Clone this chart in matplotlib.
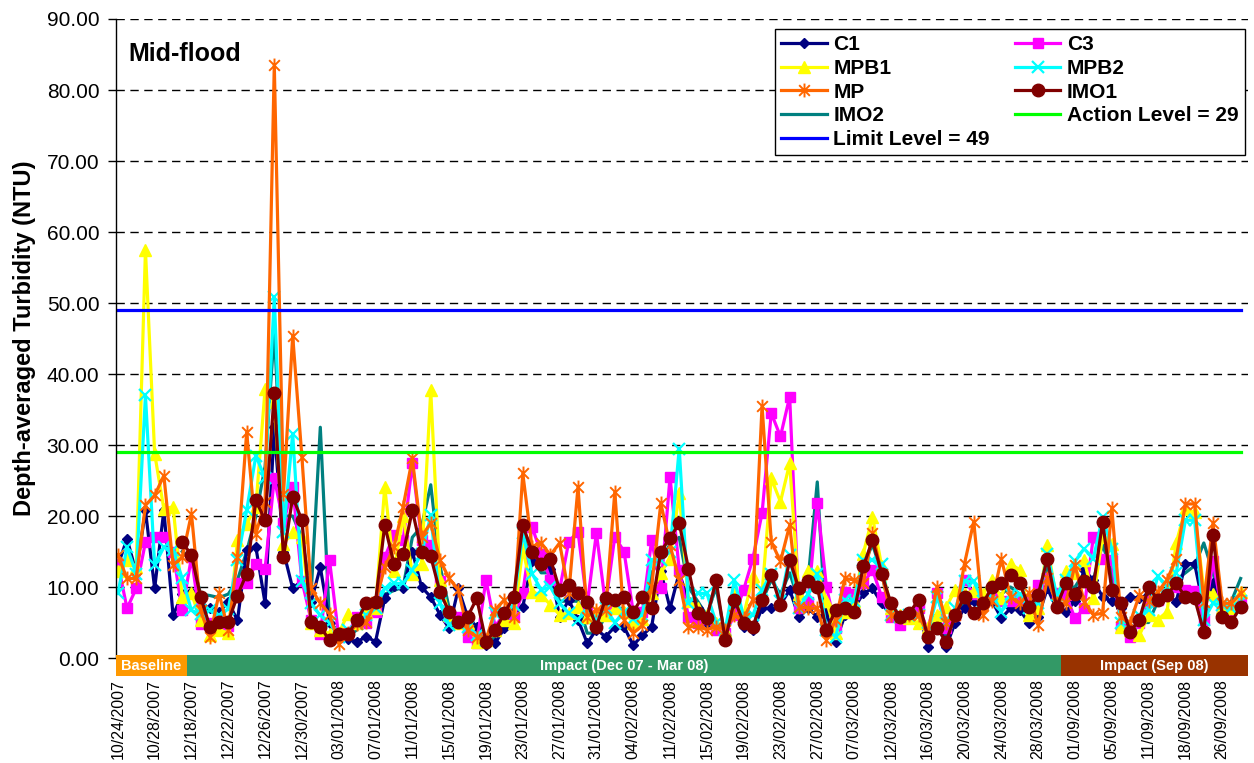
import numpy as np
import matplotlib
matplotlib.use("Agg")
import matplotlib.pyplot as plt
from matplotlib.path import Path
from matplotlib.patches import Rectangle

plt.rcParams['font.family'] = ['Liberation Sans', 'DejaVu Sans']

nan = np.nan

c1 = [13.0, 16.8, 12.0, 20.8, 9.8, 20.8, 6.0, 9.0, 9.3, 7.5,
      7.0, 6.5, 7.9, 5.3, 15.2, 15.6, 7.7, 32.5, 15.0, 9.8,
      10.9, 7.9, 12.8, 5.0, 3.7, 2.7, 2.3, 3.0, 2.3, 8.4,
      10.2, 9.8, 15.0, 10.0, 8.6, 6.1, 4.2, 9.8, 5.8, 4.4,
      1.8, 2.1, 4.2, 6.3, 7.2, 13.6, 13.3, 12.6, 5.8, 8.2,
      5.4, 2.1, 4.0, 3.0, 4.4, 4.4, 1.8, 3.2, 4.4, 12.2,
      7.0, 12.0, 8.0, 7.0, 5.0, 4.0, 4.0, 7.0, 4.4, 3.9,
      7.0, 7.0, 7.5, 9.6, 5.8, 7.0, 5.8, 6.3, 2.3, 6.0,
      7.0, 9.1, 9.8, 7.7, 6.0, 5.0, 6.0, 7.0, 1.6, 5.8,
      1.6, 5.0, 7.0, 8.0, 7.0, 8.0, 5.6, 7.0, 6.8, 4.9,
      5.8, 9.8, 7.0, 6.5, 8.0, 12.4, 11.0, 8.6, 8.0, 7.0,
      8.6, 8.4, 9.0, 8.0, 9.0, 7.9, 13.3, 13.3, 7.0, 10.5,
      7.0, 7.0, 8.0]

c3 = [13.3, 7.0, 9.8, 16.3, 17.0, 17.0, 14.9, 6.7, 14.2, 4.8,
      5.0, 4.5, 4.5, 10.5, 10.5, 13.3, 12.6, 25.3, 19.0, 24.1,
      10.9, 5.3, 3.4, 13.8, 3.0, 3.5, 5.8, 5.0, 6.5, 14.2,
      17.3, 16.6, 27.4, 16.6, 15.9, 10.8, 5.8, 5.8, 3.0, 2.1,
      11.0, 4.4, 6.3, 5.8, 9.1, 18.5, 14.7, 11.0, 9.6, 16.4,
      17.8, 7.5, 17.6, 7.5, 17.1, 15.0, 6.5, 6.5, 16.6, 9.8,
      25.5, 12.4, 5.8, 5.0, 5.5, 3.9, 3.5, 6.0, 9.6, 14.0,
      20.4, 34.5, 31.2, 36.8, 7.0, 7.9, 21.9, 10.0, 4.2, 9.3,
      9.0, 10.5, 12.4, 8.6, 5.8, 4.6, 6.0, 7.0, 4.0, 9.1,
      4.2, 6.0, 11.0, 9.0, 8.0, 9.0, 8.0, 8.0, 8.2, 7.9,
      10.3, 11.2, 9.1, 8.9, 5.6, 7.0, 17.1, 13.9, 13.8, 4.4,
      3.0, 5.0, 8.0, 8.2, 9.0, 10.0, 9.6, 9.5, 5.4, 13.6,
      6.5, 6.8, 8.0]

mpb1 = [12.3, 13.8, 12.8, 57.5, 28.8, 21.0, 21.3, 8.6, 9.1, 5.3,
        3.2, 4.0, 3.5, 16.6, 18.9, 21.3, 37.9, 36.0, 16.1, 17.7,
        17.0, 5.0, 4.0, 3.4, 3.5, 6.2, 5.0, 6.5, 7.0, 24.1,
        12.3, 20.0, 11.9, 13.3, 37.7, 11.0, 6.0, 5.0, 4.9, 2.3,
        2.5, 4.0, 5.4, 4.9, 15.4, 9.3, 8.9, 7.5, 6.1, 6.3,
        7.2, 5.8, 6.5, 6.0, 7.0, 6.5, 5.0, 5.5, 9.1, 12.0,
        14.0, 23.2, 8.0, 7.0, 6.0, 5.0, 4.0, 9.0, 6.0, 11.5,
        9.1, 25.3, 22.0, 27.4, 9.0, 12.2, 12.2, 8.0, 3.5, 6.5,
        8.0, 14.7, 19.9, 12.9, 7.0, 6.0, 5.6, 4.9, 4.4, 6.0,
        7.2, 9.6, 9.0, 9.5, 9.0, 11.0, 8.4, 13.3, 12.4, 6.1,
        7.0, 15.9, 8.2, 12.2, 12.0, 13.8, 8.4, 17.1, 16.0, 4.4,
        4.0, 3.2, 6.1, 5.4, 6.5, 16.2, 21.0, 20.5, 9.6, 9.0,
        7.0, 7.0, 9.3]

mpb2 = [9.1, 15.6, 11.9, 37.0, 13.1, 15.6, 15.2, 11.2, 6.7, 6.2,
        6.7, 6.0, 6.9, 13.8, 20.8, 28.5, 25.3, 50.8, 17.7, 31.6,
        10.9, 7.7, 6.0, 5.0, 3.0, 4.0, 4.8, 6.0, 7.0, 9.8,
        10.5, 10.5, 12.4, 14.7, 20.1, 7.7, 4.6, 5.0, 4.4, 3.2,
        2.5, 6.3, 6.5, 7.5, 17.6, 11.9, 9.6, 10.0, 7.7, 6.3,
        5.4, 7.0, 5.5, 7.0, 5.0, 6.5, 5.5, 6.1, 13.8, 13.8,
        15.0, 29.5, 7.7, 9.1, 9.1, 5.0, 4.0, 11.0, 5.8, 6.0,
        9.6, 11.9, 8.0, 14.5, 7.0, 9.0, 11.9, 4.0, 3.0, 8.2,
        8.0, 13.8, 13.8, 13.3, 6.0, 5.8, 6.0, 6.0, 3.5, 8.6,
        5.0, 7.0, 10.8, 10.8, 8.0, 9.0, 6.5, 9.0, 9.0, 7.0,
        7.7, 14.7, 8.9, 11.0, 13.6, 15.4, 14.0, 19.9, 15.4, 5.0,
        5.0, 6.0, 6.8, 11.5, 10.0, 12.0, 19.4, 19.4, 5.4, 7.7,
        7.5, 7.0, 8.0]

mp = [14.5, 11.2, 11.2, 21.5, 22.9, 25.7, 13.1, 14.2, 20.3, 6.7,
      3.0, 9.1, 3.9, 14.2, 31.8, 17.5, 22.0, 83.5, 23.1, 45.4,
      28.3, 9.8, 7.7, 6.2, 2.0, 3.5, 4.8, 5.1, 7.9, 12.8,
      15.6, 21.3, 28.1, 17.1, 19.0, 13.8, 11.2, 9.6, 3.9, 3.0,
      2.5, 6.8, 8.2, 5.8, 26.0, 15.7, 16.2, 14.5, 16.2, 9.1,
      24.1, 5.8, 6.8, 6.8, 23.4, 5.4, 3.5, 4.6, 10.0, 21.8,
      15.9, 11.0, 4.4, 4.4, 4.0, 4.4, 4.0, 6.0, 5.6, 8.2,
      35.5, 16.4, 13.6, 18.7, 7.2, 7.0, 7.0, 2.5, 5.4, 11.2,
      11.0, 10.5, 17.6, 11.9, 6.1, 5.8, 6.0, 6.0, 3.5, 10.0,
      5.0, 6.0, 13.3, 19.2, 6.1, 8.0, 14.0, 8.6, 7.7, 9.1,
      4.6, 11.2, 7.7, 7.7, 13.1, 7.9, 6.1, 6.3, 21.1, 5.8,
      5.0, 8.9, 8.0, 9.3, 11.0, 14.0, 21.7, 21.7, 7.9, 19.0,
      7.7, 7.7, 9.1]

imo1 = [nan, nan, nan, nan, nan, nan, nan, 16.3, 14.5, 8.6,
        4.4, 5.1, 5.1, 8.8, 11.9, 22.2, 19.4, 37.3, 14.2, 22.7,
        19.4, 5.1, 4.4, 2.5, 3.4, 3.4, 5.3, 7.7, 7.9, 18.7,
        13.3, 14.7, 20.8, 15.0, 14.3, 9.3, 6.5, 5.1, 5.8, 8.4,
        2.3, 3.9, 6.3, 8.6, 18.7, 15.0, 13.3, 14.0, 9.6, 10.3,
        9.1, 7.9, 4.4, 8.4, 8.2, 8.6, 6.5, 8.6, 7.0, 15.0,
        16.9, 19.0, 12.6, 6.3, 5.6, 11.0, 2.5, 8.2, 5.0, 4.4,
        8.2, 11.7, 7.5, 13.8, 9.8, 10.8, 10.0, 3.9, 6.8, 7.0,
        6.5, 12.9, 16.6, 11.9, 7.7, 5.8, 6.3, 8.2, 3.0, 4.2,
        2.3, 6.1, 8.6, 6.3, 7.7, 10.0, 10.5, 11.7, 10.5, 7.2,
        8.9, 14.0, 7.2, 10.5, 9.0, 10.8, 10.0, 19.2, 9.6, 7.7,
        3.7, 5.4, 10.0, 8.2, 8.9, 10.5, 8.6, 8.4, 3.7, 17.3,
        5.8, 5.1, 7.2]

imo2 = [nan, nan, nan, nan, nan, nan, nan, 15.0, 14.0, 9.0,
        8.8, 8.5, 9.0, 11.0, 15.0, 20.0, 27.0, 46.0, 20.0, 20.0,
        17.0, 9.0, 32.5, 5.0, 3.0, 3.0, 4.0, 6.0, 7.0, 9.0,
        9.5, 10.0, 17.0, 18.5, 24.4, 13.0, 7.0, 6.0, 5.0, 4.0,
        2.0, 3.0, 6.0, 7.0, 18.0, 14.0, 12.0, 12.0, 8.0, 8.0,
        8.0, 3.5, 3.5, 6.0, 7.0, 7.0, 5.0, 5.0, 12.0, 14.0,
        16.0, 17.0, 10.0, 8.0, 6.0, 10.0, 3.0, 9.0, 5.0, 4.0,
        8.0, 11.0, 9.0, 12.0, 8.0, 11.0, 24.8, 3.0, 4.0, 7.0,
        7.0, 13.0, 16.0, 12.0, 6.0, 5.0, 6.0, 7.0, 3.0, 6.0,
        3.0, 6.0, 8.0, 8.0, 7.0, 9.0, 9.0, 10.0, 9.0, 7.0,
        8.0, 13.0, 8.0, 10.0, 10.0, 12.0, 11.0, 16.0, 12.0, 5.0,
        4.0, 5.0, 5.0, 8.0, 9.0, 11.0, 12.0, 13.0, 16.2, 12.0,
        7.0, 8.0, 11.2]

action_level = 29
limit_level = 49

tick_labels = ['10/24/2007', '10/28/2007', '12/18/2007', '12/22/2007', '12/26/2007',
               '12/30/2007', '03/01/2008', '07/01/2008', '11/01/2008', '15/01/2008',
               '19/01/2008', '23/01/2008', '27/01/2008', '31/01/2008', '04/02/2008',
               '11/02/2008', '15/02/2008', '19/02/2008', '23/02/2008', '27/02/2008',
               '07/03/2008', '12/03/2008', '16/03/2008', '20/03/2008', '24/03/2008',
               '28/03/2008', '01/09/2008', '05/09/2008', '11/09/2008', '18/09/2008',
               '26/09/2008']

# phases: label, first index, last index
phases = [('Baseline', 0, 7), ('Impact (Dec 07 - Mar 08)', 8, 102), ('Impact (Sep 08)', 103, 122)]
phase_colors = ['#FF9900', '#339966', '#993300']

n = len(c1)
x = np.arange(n)

fig = plt.figure(figsize=(12.54, 7.63), dpi=100)
ax = fig.add_axes([0.0925, 0.1376, 0.9027, 0.8375])

star = Path([(-1, -1), (1, 1), (-1, 1), (1, -1), (0, -1.3), (0, 1.3)],
            [Path.MOVETO, Path.LINETO, Path.MOVETO, Path.LINETO, Path.MOVETO, Path.LINETO])

lw = 2.3
# IMO2 sits behind the other series, as in the original
h_imo2, = ax.plot(x, imo2, color='#008080', lw=lw, label='IMO2', zorder=1.9)
h_c1, = ax.plot(x, c1, color='#000080', lw=lw, marker='D', ms=5.5, label='C1')
h_c3, = ax.plot(x, c3, color='#FF00FF', lw=lw, marker='s', ms=7.5, label='C3')
h_mpb1, = ax.plot(x, mpb1, color='#FFFF00', lw=lw, marker='^', ms=9, label='MPB1')
h_mpb2, = ax.plot(x, mpb2, color='#00FFFF', lw=lw, marker='x', ms=8, mew=1.6, label='MPB2')
h_mp, = ax.plot(x, mp, color='#FF6600', lw=lw, marker=star, ms=10, mew=1.4, label='MP')
h_imo1, = ax.plot(x, imo1, color='#800000', lw=lw, marker='o', ms=9, label='IMO1')
h_act, = ax.plot(x, [action_level] * n, color='#00FF00', lw=lw,
                 label='Action Level = %d' % action_level)
h_lim, = ax.plot(x, [limit_level] * n, color='#0000FF', lw=lw,
                 label='Limit Level = %d' % limit_level)

ax.set_xlim(-0.2, 122.8)
ax.set_ylim(0, 90)
ax.set_yticks(np.arange(0, 91, 10))
ax.set_yticklabels(['%.2f' % v for v in np.arange(0, 91, 10)], fontsize=15)
ax.set_xticks(np.arange(0, n, 4))
ax.set_xticklabels(tick_labels, rotation=90, fontsize=11.5)
ax.tick_params(axis='x', length=0, pad=15)
ax.tick_params(axis='y', direction='out', length=6, width=1, pad=6)

ax.yaxis.grid(True, color='black', lw=1, linestyle=(0, (6, 4)))
ax.set_axisbelow(True)
for s in ['top', 'right', 'bottom']:
    ax.spines[s].set_visible(False)
ax.spines['left'].set_linewidth(1)

ax.set_ylabel('Depth-averaged Turbidity (NTU)', fontsize=17, fontweight='bold', labelpad=8)

# phase bands under the x axis
trans = ax.get_xaxis_transform()
edges = [-0.2, 7.5, 102.5, 122.8]
for k, (name, i0, i1) in enumerate(phases):
    left, right = edges[k], edges[k + 1]
    ax.add_patch(Rectangle((left, -0.028), right - left, 0.0325, transform=trans,
                           facecolor=phase_colors[k], edgecolor='none',
                           clip_on=False, zorder=10))
    ax.text((left + right) / 2, -0.0118, name, transform=trans, ha='center', va='center',
            color='white', fontsize=10.5, fontweight='bold', zorder=11, clip_on=False)

ax.text(0.0106, 0.945, 'Mid-flood', transform=ax.transAxes, fontsize=18,
        fontweight='bold', ha='left', va='center')

handles = [h_c1, h_mpb1, h_mp, h_imo2, h_lim, h_c3, h_mpb2, h_imo1, h_act]
leg = ax.legend(handles=handles, ncol=2, loc='upper right', bbox_to_anchor=(0.997, 0.984),
                prop={'weight': 'bold', 'size': 15}, frameon=True, fancybox=False,
                edgecolor='black', framealpha=1, handlelength=2.2, handletextpad=0.3,
                labelspacing=0.22, columnspacing=1.2, borderpad=0.3, borderaxespad=0)
leg.get_frame().set_linewidth(1)
leg.set_zorder(20)

fig.savefig('out.png', dpi=100)
